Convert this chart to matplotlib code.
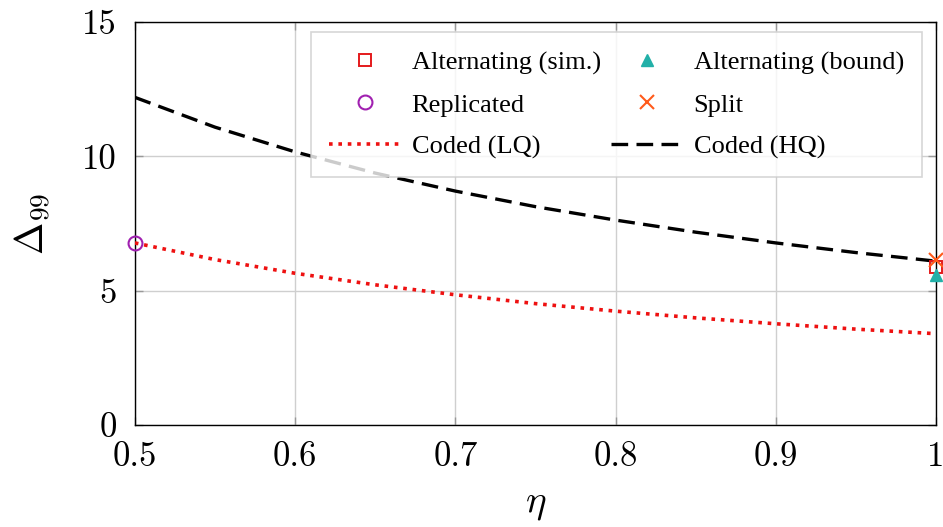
import matplotlib
matplotlib.use("Agg")
import matplotlib.pyplot as plt

plt.rcParams['font.family'] = ['cmr10', 'DejaVu Serif']
plt.rcParams['mathtext.fontset'] = 'cm'
plt.rcParams['axes.formatter.use_mathtext'] = True

# Data
eta = [0.5, 0.55, 0.6, 0.65, 0.7, 0.75, 0.8, 0.85, 0.9, 0.95, 1.0]
coded_hq = [12.2, 11.09, 10.17, 9.38, 8.71, 8.13, 7.63, 7.18, 6.78, 6.42, 6.1]
coded_lq = [6.78, 6.16, 5.65, 5.22, 4.85, 4.52, 4.24, 3.99, 3.77, 3.57, 3.4]
alt_sim_x, alt_sim_y = [1.0], [5.88]
alt_bound_x, alt_bound_y = [1.0], [5.57]
repl_x, repl_y = [0.5], [6.78]
split_x, split_y = [1.0], [6.14]

xticks = [0.5, 0.6, 0.7, 0.8, 0.9, 1.0]
xticklabels = ['0.5', '0.6', '0.7', '0.8', '0.9', '1']
yticks = [0, 5, 10, 15]
yticklabels = ['0', '5', '10', '15']

fig = plt.figure(figsize=(9.43, 5.27), dpi=100)
ax = fig.add_axes([0.143, 0.1935, 0.8496, 0.7645])

ax.grid(True, color='#cfcfcf', linewidth=1.0, zorder=0)
ax.set_axisbelow(True)

h_lq, = ax.plot(eta, coded_lq, color='#ee1111', linestyle=(0, (1, 1.6)), linewidth=2.6,
                label='Coded (LQ)', zorder=3)
h_hq, = ax.plot(eta, coded_hq, color='black', linestyle=(0, (5, 2.5)), linewidth=2.4,
                label='Coded (HQ)', zorder=3)
h_sim, = ax.plot(alt_sim_x, alt_sim_y, linestyle='none', marker='s', markersize=9,
                 markerfacecolor='none', markeredgecolor='#e41a1c', markeredgewidth=1.4,
                 label='Alternating (sim.)', clip_on=False, zorder=4)
h_bound, = ax.plot(alt_bound_x, alt_bound_y, linestyle='none', marker='^', markersize=9,
                   color='#22b0a8', label='Alternating (bound)', clip_on=False, zorder=4)
h_repl, = ax.plot(repl_x, repl_y, linestyle='none', marker='o', markersize=10,
                  markerfacecolor='none', markeredgecolor='#a020b0', markeredgewidth=1.5,
                  label='Replicated', clip_on=False, zorder=4)
h_split, = ax.plot(split_x, split_y, linestyle='none', marker='x', markersize=10,
                   color='#ff5a1a', markeredgewidth=1.5, label='Split', clip_on=False, zorder=5)

ax.set_xlim(0.5, 1.0)
ax.set_ylim(0, 15)
ax.set_xticks(xticks)
ax.set_xticklabels(xticklabels)
ax.set_yticks(yticks)
ax.set_yticklabels(yticklabels)
ax.tick_params(axis='both', direction='in', length=6, width=1, color='#999999',
               labelsize=25, top=True, right=True)
ax.tick_params(axis='x', pad=12)
ax.tick_params(axis='y', pad=13)
for s in ax.spines.values():
    s.set_linewidth(1.0)
    s.set_color('black')

ax.set_xlabel(r'$\eta$', fontsize=28, labelpad=9)
ax.set_ylabel(r'$\Delta_{99}$', fontsize=28, labelpad=21)

leg = ax.legend(handles=[h_sim, h_repl, h_lq, h_bound, h_split, h_hq], ncol=2,
                loc='upper left', bbox_to_anchor=(0.2197, 0.975),
                prop={'family': 'Liberation Serif', 'size': 19},
                frameon=True, fancybox=False, framealpha=0.8, edgecolor='#cccccc',
                handlelength=2.7, handletextpad=0.42, columnspacing=0.4,
                labelspacing=0.7, borderpad=0.7, borderaxespad=0)
leg.get_frame().set_linewidth(1.2)

fig.savefig('out.png', dpi=100)
